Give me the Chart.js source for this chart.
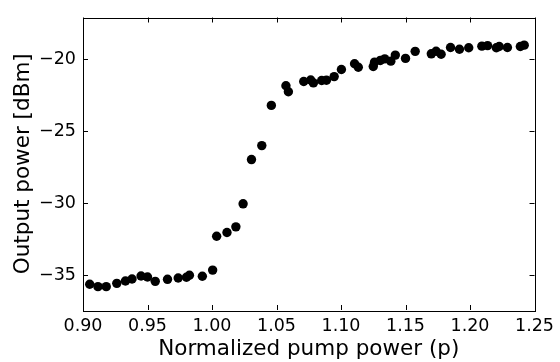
<!DOCTYPE html>
<html>
<head>
<meta charset="utf-8">
<script src="https://cdn.jsdelivr.net/npm/chart.js@4"></script>
<style>
	html, body { margin: 0; padding: 0; background: #fff; }
	#wrap { width: 560px; height: 362px; }
</style>
</head>
<body>
<div id="wrap"><canvas id="canvasScatter" width="560" height="362"></canvas></div>
<script>
"use strict";

// measured points
var pumpPower = [
	0.9052, 0.9116, 0.9180, 0.9262, 0.9329, 0.9380, 0.9450, 0.9500, 0.9560, 0.9655,
	0.9738, 0.9802, 0.9825, 0.9925, 1.0005, 1.0036, 1.0116, 1.0185, 1.0241, 1.0306,
	1.0386, 1.0460, 1.0573, 1.0592, 1.0711, 1.0765, 1.0786, 1.0850, 1.0887, 1.0947,
	1.1003, 1.1105, 1.1134, 1.1250, 1.1260, 1.1305, 1.1339, 1.1386, 1.1421, 1.1500,
	1.1575, 1.1700, 1.1737, 1.1776, 1.1849, 1.1918, 1.1990, 1.2092, 1.2136, 1.2204,
	1.2226, 1.2290, 1.2390, 1.2420
];
var outputPower = [
	-35.63, -35.80, -35.80, -35.57, -35.41, -35.27, -35.06, -35.13, -35.43, -35.29,
	-35.20, -35.15, -35.01, -35.08, -34.65, -32.30, -32.04, -31.65, -30.05, -26.98,
	-26.01, -23.22, -21.86, -22.27, -21.56, -21.46, -21.66, -21.49, -21.47, -21.22,
	-20.73, -20.33, -20.57, -20.52, -20.22, -20.10, -19.99, -20.15, -19.73, -19.96,
	-19.47, -19.64, -19.46, -19.67, -19.20, -19.32, -19.22, -19.11, -19.07, -19.22,
	-19.13, -19.20, -19.13, -19.04
];

var xTicks = [0.90, 0.95, 1.00, 1.05, 1.10, 1.15, 1.20, 1.25];
var yTicks = [-35, -30, -25, -20];

var fontFamily = "'DejaVu Sans', sans-serif";

function FormatY(v) {
	return v < 0 ? '\u2212' + Math.abs(v) : String(v);
}

// matplotlib-like frame with inward ticks on every side
var framePlugin = {
	id: 'frame',
	afterDraw: function (chart) {
		var ctx = chart.ctx;
		var a = chart.chartArea;
		var xs = chart.scales.x;
		var ys = chart.scales.y;
		var len = 5;
		ctx.save();
		ctx.strokeStyle = '#000';
		ctx.lineWidth = 1;
		ctx.beginPath();
		xTicks.forEach(function (t) {
			var px = Math.round(xs.getPixelForValue(t)) + 0.5;
			ctx.moveTo(px, a.bottom);
			ctx.lineTo(px, a.bottom - len);
			ctx.moveTo(px, a.top);
			ctx.lineTo(px, a.top + len);
		});
		yTicks.forEach(function (t) {
			var py = Math.round(ys.getPixelForValue(t)) + 0.5;
			ctx.moveTo(a.left, py);
			ctx.lineTo(a.left + len, py);
			ctx.moveTo(a.right, py);
			ctx.lineTo(a.right - len, py);
		});
		ctx.stroke();
		ctx.strokeRect(Math.round(a.left) + 0.5, Math.round(a.top) + 0.5,
			Math.round(a.right - a.left), Math.round(a.bottom - a.top));
		ctx.restore();
	}
};

var points = [];
pumpPower.forEach(function (x, index) {
	points.push({ x: x, y: outputPower[index] });
});

const context = document.getElementById('canvasScatter');
const myChart = new Chart(context, {
	type: 'scatter',
	data: {
		datasets: [{
			label: 'Output power',
			data: points,
			backgroundColor: '#000',
			borderColor: '#000',
			borderWidth: 0,
			pointRadius: 4.7,
			pointHoverRadius: 4.7
		}]
	},
	options: {
		responsive: false,
		animation: false,
		events: [],
		layout: {
			padding: { top: 17, right: 23, left: 0, bottom: 0 }
		},
		plugins: {
			legend: { display: false },
			tooltip: { enabled: false }
		},
		scales: {
			x: {
				type: 'linear',
				min: 0.9,
				max: 1.25,
				afterBuildTicks: function (scale) {
					scale.ticks = xTicks.map(function (v) { return { value: v }; });
				},
				afterFit: function (scale) {
					scale.height = 52;
				},
				grid: { display: false, drawTicks: false },
				border: { display: false },
				ticks: {
					color: '#000',
					padding: 6,
					maxRotation: 0,
					font: { family: fontFamily, size: 17.5 },
					callback: function (v) { return Number(v).toFixed(2); }
				},
				title: {
					display: true,
					text: 'Normalized pump power (p)',
					color: '#000',
					font: { family: fontFamily, size: 21.5 },
					padding: { top: 0, bottom: 0 }
				}
			},
			y: {
				type: 'linear',
				min: -37.42,
				max: -17.12,
				afterBuildTicks: function (scale) {
					scale.ticks = yTicks.map(function (v) { return { value: v }; });
				},
				afterFit: function (scale) {
					scale.width = 83;
				},
				grid: { display: false, drawTicks: false },
				border: { display: false },
				ticks: {
					color: '#000',
					padding: 7,
					font: { family: fontFamily, size: 17.5 },
					callback: function (v) { return FormatY(v); }
				},
				title: {
					display: true,
					text: 'Output power [dBm]',
					color: '#000',
					font: { family: fontFamily, size: 21.5 },
					padding: { top: 11, bottom: 0 }
				}
			}
		}
	},
	plugins: [framePlugin]
});
</script>
</body>
</html>
